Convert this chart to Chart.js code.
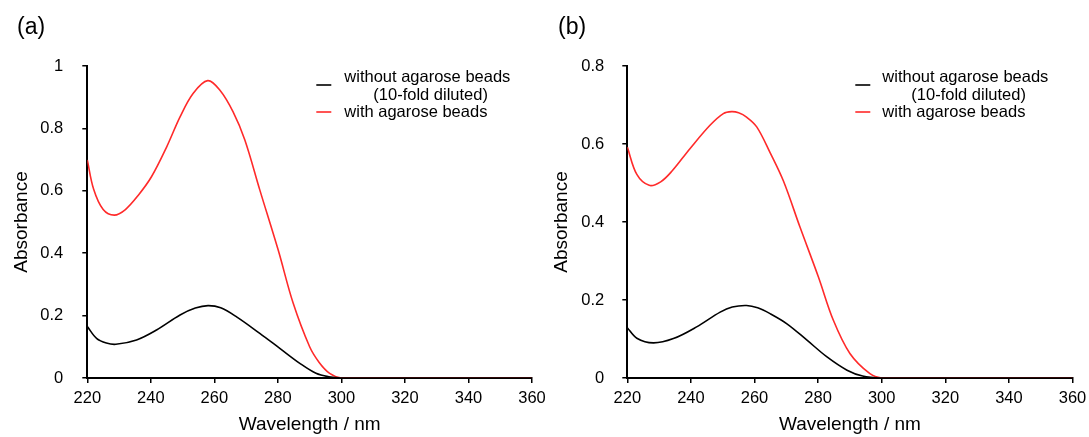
<!DOCTYPE html>
<html>
<head>
<meta charset="utf-8">
<script src="https://cdn.jsdelivr.net/npm/chart.js@4.4.0/dist/chart.umd.min.js"></script>
<style>
  body { margin: 0; background: #fff; }
  #wrapA { position: absolute; left: 0; top: 0; }
  #wrapB { position: absolute; left: 545px; top: 0; }
</style>
</head>
<body>
<div id="wrapA"><canvas id="chartA" width="545" height="437"></canvas></div>
<div id="wrapB"><canvas id="chartB" width="544" height="437"></canvas></div>
<script>
const FONT = "'Liberation Sans', Arial, sans-serif";
const RED = "#ff2a2a";
const BLACK = "#000000";

const xTicks = [220, 240, 260, 280, 300, 320, 340, 360];
const legendLabels = [["without agarose beads", "(10-fold diluted)"], ["with agarose beads"]];

// panel (a)
const wlA_without = [220, 223, 226, 229, 235.5, 241.8, 249.2, 254, 258, 262, 267, 274.3, 280.6, 286.9, 292, 296, 300, 310, 320, 330, 340, 350, 360];
const absA_without = [0.165, 0.126, 0.112, 0.108, 0.122, 0.154, 0.202, 0.224, 0.232, 0.225, 0.196, 0.143, 0.095, 0.047, 0.015, 0.004, 0, 0, 0, 0, 0, 0, 0];
const wlA_with = [220, 222, 225, 228.5, 232, 236, 240.2, 245, 249.2, 253.3, 257.9, 261.7, 265.9, 269.6, 274.3, 280.1, 284.8, 290, 293, 296.3, 300, 310, 320, 330, 340, 350, 360];
const absA_with = [0.699, 0.605, 0.54, 0.522, 0.54, 0.585, 0.645, 0.741, 0.837, 0.912, 0.953, 0.923, 0.853, 0.763, 0.603, 0.41, 0.24, 0.10, 0.05, 0.015, 0, 0, 0, 0, 0, 0, 0];

// panel (b)
const wlB_without = [220, 223, 228.2, 234.5, 241.8, 249.2, 253, 257.5, 261, 264.9, 270.2, 276.5, 282.8, 289.1, 294, 300, 310, 320, 330, 340, 350, 360];
const absB_without = [0.129, 0.102, 0.090, 0.101, 0.131, 0.169, 0.182, 0.186, 0.18, 0.165, 0.139, 0.097, 0.054, 0.02, 0.005, 0, 0, 0, 0, 0, 0, 0];
const wlB_with = [220, 223, 226.9, 230.5, 234, 239.7, 246, 250.2, 252.8, 255, 257.5, 260.7, 264.9, 269.1, 274.3, 280.1, 284.8, 290, 296.3, 300, 310, 320, 330, 340, 350, 360];
const absB_with = [0.592, 0.522, 0.494, 0.503, 0.53, 0.588, 0.648, 0.678, 0.683, 0.68, 0.669, 0.644, 0.578, 0.505, 0.387, 0.259, 0.148, 0.063, 0.011, 0, 0, 0, 0, 0, 0, 0];

function pts(xs, ys) {
    return xs.map((x, i) => ({ x: x, y: ys[i] }));
}

// legend + panel letter drawn on the canvas
const extras = {
    id: "extras",
    afterDraw(chart, args, opts) {
        const ctx = chart.ctx;
        const left = chart.chartArea.left;
        ctx.save();
        ctx.fillStyle = "#000";
        ctx.font = "23px " + FONT;
        ctx.textBaseline = "middle";
        ctx.textAlign = "left";
        ctx.fillText(opts.letter, opts.letterX, 28);

        ctx.font = "16.5px " + FONT;
        ctx.lineWidth = 1.6;
        // black entry
        ctx.strokeStyle = BLACK;
        ctx.beginPath();
        ctx.moveTo(left + opts.swatchX, 85);
        ctx.lineTo(left + opts.swatchX + 15, 85);
        ctx.stroke();
        ctx.fillText(legendLabels[0][0], left + opts.textX, 77);
        ctx.fillText(legendLabels[0][1], left + opts.textX + 29, 95);
        // red entry
        ctx.strokeStyle = RED;
        ctx.beginPath();
        ctx.moveTo(left + opts.swatchX, 112);
        ctx.lineTo(left + opts.swatchX + 15, 112);
        ctx.stroke();
        ctx.fillText(legendLabels[1][0], left + opts.textX, 112);
        ctx.restore();
    }
};

function makeChart(id, cfg) {
    return new Chart(document.getElementById(id), {
        type: "line",
        data: {
            datasets: [
                { data: pts(cfg.wlWithout, cfg.absWithout), borderColor: BLACK },
                { data: pts(cfg.wlWith, cfg.absWith), borderColor: RED }
            ].map(d => Object.assign(d, {
                borderWidth: 1.6,
                pointRadius: 0,
                tension: 0.35,
                fill: false
            }))
        },
        options: {
            responsive: false,
            animation: false,
            layout: { padding: { top: 66, right: cfg.padRight, left: 0, bottom: 0 } },
            plugins: {
                legend: { display: false },
                tooltip: { enabled: false },
                extras: cfg.extras
            },
            scales: {
                x: {
                    type: "linear",
                    min: 220,
                    max: 360,
                    afterBuildTicks: s => { s.ticks = xTicks.map(v => ({ value: v })); },
                    afterFit: s => { s.height = 59; s.paddingRight = 0; s.paddingLeft = 0; },
                    grid: { drawOnChartArea: false, tickLength: 5, color: "#000", lineWidth: 1.5 },
                    border: { color: "#000", width: 2 },
                    ticks: { color: "#000", font: { family: FONT, size: 16.5 }, padding: 6, maxRotation: 0 },
                    title: { display: true, text: "Wavelength / nm", color: "#000",
                             font: { family: FONT, size: 19 }, padding: { top: 0, bottom: 1 } }
                },
                y: {
                    min: 0,
                    max: cfg.yMax,
                    afterFit: s => { s.width = cfg.yWidth; },
                    grid: { drawOnChartArea: false, tickLength: 5, color: "#000", lineWidth: 1.5 },
                    border: { color: "#000", width: 2 },
                    ticks: { stepSize: 0.2, color: "#000", font: { family: FONT, size: 16.5 },
                             padding: cfg.tickPad, callback: v => String(+v.toFixed(1)) },
                    title: { display: true, text: "Absorbance", color: "#000",
                             font: { family: FONT, size: 19 }, padding: { top: cfg.titlePad, bottom: 0 } }
                }
            }
        },
        plugins: [extras]
    });
}

makeChart("chartA", {
    wlWithout: wlA_without, absWithout: absA_without,
    wlWith: wlA_with, absWith: absA_with,
    yMax: 1, yWidth: 87.3, padRight: 13, tickPad: 19, titlePad: 10,
    extras: { letter: "(a)", letterX: 17, swatchX: 229, textX: 257 }
});

makeChart("chartB", {
    wlWithout: wlB_without, absWithout: absB_without,
    wlWith: wlB_with, absWith: absB_with,
    yMax: 0.8, yWidth: 82.3, padRight: 16.5, tickPad: 18, titlePad: 5,
    extras: { letter: "(b)", letterX: 13, swatchX: 228, textX: 255 }
});
</script>
</body>
</html>
